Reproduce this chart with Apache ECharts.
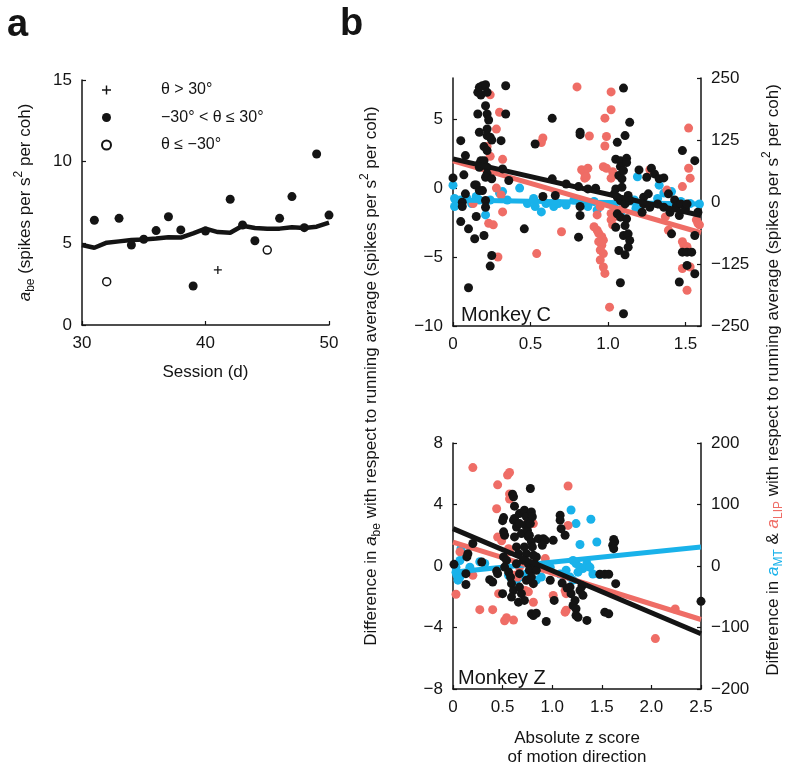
<!DOCTYPE html>
<html>
<head>
<meta charset="utf-8">
<script src="https://cdn.jsdelivr.net/npm/echarts@6/dist/echarts.min.js"></script>
<style>
  html, body { margin: 0; padding: 0; background: #fff; }
  #chart { width: 792px; height: 772px; }
</style>
</head>
<body>
<div id="chart"></div>
<script>
// panel a: a_be per session
const sessions = [30, 31, 32, 33, 34, 35, 36, 37, 38, 39, 40, 41, 42, 43, 44, 45, 46, 47, 48, 49, 50]
const runningAvg = [4.9, 4.73, 5.04, 5.12, 5.2, 5.24, 5.29, 5.37, 5.35, 5.61, 5.9, 5.69, 5.65, 6.08, 5.94, 5.9, 5.9, 5.98, 5.94, 6.02, 6.27]
const thetaAbove = [[41, 3.37]]
const thetaMid = [[31, 6.41], [33, 6.53], [34, 4.9], [35, 5.25], [36, 5.78], [37, 6.63], [38, 5.82], [39, 2.39], [40, 5.75],
  [42, 7.7], [43, 6.12], [44, 5.16], [46, 6.53], [47, 7.86], [48, 5.96], [49, 10.47], [50, 6.73]]
const thetaBelow = [[32, 2.65], [45, 4.59]]

// panel b, monkey C: [|z|, difference]
const cBe = [[0.00, 0.75], [0.05, 3.45], [0.06, -1.01], [0.06, -1.33], [0.05, -2.42], [0.08, 2.37], [0.08, -0.41], [0.07, 0.97],
  [0.10, -2.95], [0.10, -7.22], [0.14, -3.67], [0.15, -2.05], [0.14, 0.24], [0.16, 6.96], [0.17, 7.32], [0.19, 7.44], [0.21, 7.51],
  [0.18, 6.76], [0.16, 5.39], [0.21, 5.99], [0.22, 5.39], [0.23, 4.95], [0.17, 4.06], [0.22, 4.30], [0.22, 3.82], [0.24, 3.70],
  [0.20, 3.02], [0.22, 2.73], [0.18, 2.00], [0.17, 1.76], [0.17, 1.52], [0.20, 2.00], [0.22, 1.52], [0.22, 1.04], [0.21, 0.80],
  [0.15, 0.24], [0.17, -0.17], [0.19, -0.17], [0.21, -0.89], [0.21, -1.38], [0.20, -3.43], [0.25, -4.88], [0.24, -5.65],
  [0.25, 0.68], [0.25, 3.50], [0.22, 6.96], [0.34, 7.44], [0.34, 5.39], [0.31, 3.45], [0.32, 1.40], [0.36, 0.56], [0.46, -2.95],
  [0.53, 3.21], [0.58, -0.60], [0.64, 5.07], [0.64, 0.68], [0.66, -0.53], [0.73, 0.31], [0.81, 0.12], [0.87, -0.05], [0.82, 4.06],
  [0.82, 3.89], [0.82, -1.33], [0.82, -1.98], [0.81, -3.55], [0.92, 0.00], [1.10, 7.27], [1.14, 4.78], [1.11, 3.82], [1.06, 3.33],
  [1.05, 2.10], [1.08, 2.00], [1.08, 1.57], [1.12, 2.17], [1.12, 1.86], [1.07, 0.92], [1.09, 0.68], [1.10, 1.28], [1.05, -0.05],
  [1.04, -0.41], [1.06, -0.65], [1.09, 0.07], [1.08, -0.89], [1.11, -1.14], [1.13, -0.53], [1.14, -0.89], [1.06, -1.86],
  [1.08, -2.10], [1.12, -2.22], [1.11, -2.71], [1.05, -2.83], [1.10, -3.43], [1.13, -3.31], [1.14, -3.79], [1.07, -4.52],
  [1.13, -4.28], [1.11, -4.83], [1.08, -6.86], [1.10, -9.11], [1.20, 1.33], [1.25, 0.80], [1.28, 1.45], [1.30, 1.04], [1.33, 0.68],
  [1.36, 0.75], [1.23, -0.65], [1.23, -1.14], [1.22, -1.74], [1.26, -0.41], [1.27, -1.38], [1.32, -1.14], [1.36, -1.38],
  [1.39, -0.41], [1.43, -0.85], [1.44, -1.33], [1.40, -1.74], [1.46, -1.98], [1.41, -3.31], [1.48, 2.73], [1.47, -1.14],
  [1.50, -1.50], [1.46, -6.81], [1.48, -4.64], [1.51, -4.64], [1.54, -4.64], [1.51, -5.60], [1.56, -3.43], [1.56, -6.21],
  [1.56, 2.00], [1.51, -1.14], [1.58, -1.74]]
const cLip = [[0.24, 216], [0.30, 181], [0.28, 147], [0.24, 92], [0.22, 112], [0.32, 86], [0.28, 28], [0.31, 14], [0.23, -43],
  [0.26, -46], [0.32, -20], [0.29, -111], [0.13, -3], [0.58, 129], [0.57, 120], [0.70, -60], [0.54, -104], [0.80, 232],
  [0.88, 133], [0.98, 169], [1.02, 186], [1.02, 222], [0.98, 113], [0.99, 132], [0.83, 65], [0.85, 58], [0.87, 68], [0.85, 48],
  [0.86, 51], [0.97, 71], [0.99, 68], [1.03, 61], [1.02, 48], [0.93, -26], [0.95, -9], [0.91, -50], [0.93, -57], [0.94, -63],
  [0.96, -70], [0.97, -77], [0.94, -80], [0.96, -87], [0.95, -97], [0.97, -104], [0.95, -117], [0.97, -131], [0.98, -144],
  [1.01, -212], [1.02, -23], [1.04, -30], [1.02, -36], [1.03, -46], [1.09, -14], [1.27, 65], [1.38, 24], [1.37, -30], [1.39, -57],
  [1.48, 31], [1.52, 149], [1.52, 68], [1.53, 48], [1.48, -80], [1.49, -87], [1.51, -90], [1.53, -131], [1.51, -178], [1.57, -36],
  [1.58, -43], [1.59, -46], [1.48, -134]]
const cMt = [[0.00, 34], [0.01, 7], [0.01, -9], [0.02, 1], [0.05, 4], [0.09, 7], [0.12, -3], [0.15, 11], [0.17, 4], [0.21, -26],
  [0.24, 4], [0.30, 18], [0.32, 21], [0.35, 4], [0.43, 28], [0.48, -3], [0.52, 7], [0.53, -9], [0.57, -20], [0.60, -3], [0.65, -9],
  [0.68, -3], [0.73, -6], [0.78, 4], [0.82, -6], [0.87, -9], [0.91, 1], [0.93, -16], [1.04, -9], [1.06, -20], [1.08, -23],
  [1.10, -6], [1.17, 4], [1.18, -13], [1.21, -3], [1.19, 51], [1.32, 7], [1.36, 18], [1.41, 21], [1.47, 1], [1.53, -3],
  [1.59, -4], [1.33, 34]]
const cFitBe = [[0, 2.13], [1.6, -1.98]]
const cFitLip = [[0, 83], [1.6, -62]]
const cFitMt = [[0, 4], [1.6, -4]]

// panel b, monkey Z
const zBe = [[0.01, 0.11], [0.13, -0.50], [0.13, -1.20], [0.14, 0.59], [0.15, 0.80], [0.20, 1.46], [0.29, 0.26], [0.37, -0.89],
  [0.40, -1.04], [0.44, -0.33], [0.45, -0.50], [0.51, 3.15], [0.50, 2.95], [0.51, 2.22], [0.52, 2.00], [0.51, 0.59], [0.54, 0.37],
  [0.52, -0.07], [0.50, -1.80], [0.56, -0.39], [0.58, -0.72], [0.59, -1.15], [0.61, -1.59], [0.59, -2.02], [0.60, 4.67],
  [0.61, 4.50], [0.62, 3.89], [0.61, 2.98], [0.62, 3.09], [0.64, 2.54], [0.62, 1.89], [0.64, 1.24], [0.67, 3.41], [0.67, 2.76],
  [0.69, 2.11], [0.66, 0.80], [0.64, 0.15], [0.67, -0.50], [0.67, -1.37], [0.69, -1.80], [0.66, -2.35], [0.72, 3.63],
  [0.74, 3.20], [0.73, 2.65], [0.75, 2.33], [0.76, 1.89], [0.72, 1.24], [0.74, 0.80], [0.71, 0.37], [0.76, 0.15], [0.77, -0.28],
  [0.74, -0.93], [0.72, -2.24], [0.78, 5.04], [0.79, 3.52], [0.80, 3.20], [0.78, 2.76], [0.77, 2.00], [0.79, 1.57], [0.80, 1.24],
  [0.81, 0.70], [0.82, 0.15], [0.84, -0.28], [0.79, -0.72], [0.81, -1.15], [0.79, -3.11], [0.81, -3.22], [0.84, -3.07],
  [0.86, 1.78], [0.84, 0.59], [0.91, 1.78], [0.93, 1.67], [0.90, 1.35], [0.94, -3.61], [1.01, 1.67], [1.02, -2.24], [0.98, -0.93],
  [1.08, 3.30], [1.08, 2.98], [1.09, 2.43], [1.13, 2.00], [1.10, -1.11], [1.15, -1.43], [1.18, -1.37], [1.19, -1.80],
  [1.23, -2.24], [1.21, -2.57], [1.24, -2.78], [1.24, -3.22], [1.26, -3.33], [1.35, -3.54], [1.28, -1.59], [1.31, -1.91],
  [1.30, -1.30], [1.48, -0.54], [1.53, -0.54], [1.57, -0.54], [1.62, 1.72], [1.63, 1.57], [1.61, 1.35], [1.62, 1.13],
  [1.64, -1.15], [1.53, -3.00], [1.57, -3.11], [2.50, -2.30]]
const zLip = [[0.20, 160], [0.03, -46], [0.20, -15], [0.27, -71], [0.40, -71], [0.45, 132], [0.44, 93], [0.55, 148], [0.57, 152],
  [0.57, 117], [0.57, 109], [0.46, -45], [0.52, -89], [0.54, -84], [0.61, -88], [0.45, 47], [0.49, 41], [0.56, 28], [0.57, 23],
  [0.62, -15], [0.65, -18], [0.67, -2], [0.76, 74], [0.81, 69], [0.73, -40], [0.76, -42], [0.93, 12], [0.81, -59], [1.01, -48],
  [1.16, 130], [1.16, 66], [1.13, -40], [1.14, -45], [1.14, -72], [1.13, -75], [2.04, -118], [2.24, -70], [0.07, 23]]
const zMt = [[0.03, -2], [0.03, -10], [0.04, -15], [0.05, -23], [0.07, 9], [0.07, -18], [0.08, 28], [0.13, 17], [0.17, -2],
  [0.27, 7], [0.32, 4], [0.56, -15], [0.59, -21], [0.64, -23], [0.67, -18], [0.74, -13], [0.79, -7], [0.84, -23], [0.89, -18],
  [0.94, 4], [0.98, -2], [1.08, -13], [1.14, -7], [1.19, 91], [1.24, 69], [1.28, 35], [1.39, 76], [1.45, 39], [1.21, 9], [1.24, 4],
  [1.28, -2], [1.31, -4], [1.35, 4], [1.38, -2], [1.41, -13], [1.48, -14], [1.18, -18], [1.21, -23], [1.26, -10]]
const zFitBe = [[0, 2.43], [2.5, -4.41]]
const zFitLip = [[0, 39], [2.5, -87]]
const zFitMt = [[0, -10], [2.5, 31]]

const FONT = '"Liberation Sans", Arial, sans-serif'
const ink = '#141414'
const salmon = '#ef6d66'
const cyan = '#19b2ea'
const minus = (v) => String(v).replace('-', '\u2212')
const oneDec = (v) => (v === 0 ? '0' : v.toFixed(1))

const axis = (opts) => {
  const { labels, formatter, ...rest } = opts
  return {
    type: 'value',
    splitLine: { show: false },
    axisLine: { show: true, onZero: false, lineStyle: { color: ink, width: 1.5 } },
    axisTick: { show: true, inside: true, length: 4, lineStyle: { color: ink, width: 1.2 }, customValues: labels },
    axisLabel: { color: ink, fontSize: 17, fontFamily: FONT, margin: 10, formatter: formatter || minus, customValues: labels },
    nameTextStyle: { color: ink, fontSize: 17, fontFamily: FONT },
    ...rest
  }
}

const richOpt = {
  i: { fontStyle: 'italic', fontSize: 17, lineHeight: 24, fontFamily: FONT, color: ink },
  sub: { fontSize: 12, lineHeight: 12, verticalAlign: 'bottom', fontFamily: FONT, color: ink },
  sup: { fontSize: 12, lineHeight: 12, verticalAlign: 'top', fontFamily: FONT, color: ink }
}
const richGfx = {
  i: { fontStyle: 'italic', fontSize: 17, lineHeight: 24, fontFamily: FONT, fill: ink },
  sub: { fontSize: 12, lineHeight: 12, verticalAlign: 'bottom', fontFamily: FONT, fill: ink },
  sup: { fontSize: 12, lineHeight: 12, verticalAlign: 'top', fontFamily: FONT, fill: ink },
  ib: { fontStyle: 'italic', fontSize: 17, lineHeight: 24, fontFamily: FONT, fill: cyan },
  subb: { fontSize: 12, lineHeight: 12, verticalAlign: 'bottom', fontFamily: FONT, fill: cyan },
  ir: { fontStyle: 'italic', fontSize: 17, lineHeight: 24, fontFamily: FONT, fill: salmon },
  subr: { fontSize: 12, lineHeight: 12, verticalAlign: 'bottom', fontFamily: FONT, fill: salmon }
}

const vText = (x, y, text) => ({
  type: 'text', x, y, rotation: Math.PI / 2,
  style: { text, rich: richGfx, fontSize: 17, lineHeight: 24, fontFamily: FONT, fill: ink, align: 'center', verticalAlign: 'middle' }
})
const label = (x, y, text, size, weight) => ({
  type: 'text', x, y,
  style: { text, fontSize: size, fontWeight: weight || 'normal', fontFamily: FONT, fill: ink, align: 'left', verticalAlign: 'middle' }
})

const dots = (name, data, xi, yi, color, z) => ({
  name, type: 'scatter', data, xAxisIndex: xi, yAxisIndex: yi, z,
  symbol: 'circle', symbolSize: 9, itemStyle: { color, opacity: 1 }, silent: true
})
const fit = (name, data, xi, yi, color, z) => ({
  name, type: 'line', data, xAxisIndex: xi, yAxisIndex: yi, z,
  symbol: 'none', lineStyle: { color, width: 5, cap: 'butt' }, silent: true
})

const plusPath = 'path://M4.2,0H5.8V4.2H10V5.8H5.8V10H4.2V5.8H0V4.2H4.2Z'

const option = {
  animation: false,
  backgroundColor: '#fff',
  textStyle: { fontFamily: FONT },
  grid: [
    { left: 82, top: 80, width: 247, height: 245 },
    { left: 453, top: 78, width: 248, height: 248 },
    { left: 453, top: 443, width: 248, height: 246 }
  ],
  legend: {
    data: ['\u03b8 > 30\u00b0', '\u221230\u00b0 < \u03b8 \u2264 30\u00b0', '\u03b8 \u2264 \u221230\u00b0'],
    orient: 'vertical', left: 96, top: 77, itemWidth: 9, itemHeight: 9, itemGap: 11.5,
    selectedMode: false,
    textStyle: { fontSize: 16, fontFamily: FONT, color: ink, padding: [0, 0, 0, 45] }
  },
  xAxis: [
    axis({ gridIndex: 0, min: 30, max: 50, interval: 10, name: 'Session (d)', nameLocation: 'middle', nameGap: 39 }),
    axis({ gridIndex: 1, min: 0, max: 1.6, interval: 0.5, labels: [0, 0.5, 1, 1.5], formatter: oneDec }),
    axis({
      gridIndex: 2, min: 0, max: 2.5, interval: 0.5, formatter: oneDec,
      name: 'Absolute z score\nof motion direction', nameLocation: 'middle', nameGap: 40,
      nameTextStyle: { color: ink, fontSize: 17, fontFamily: FONT, lineHeight: 19 }
    })
  ],
  yAxis: [
    axis({
      gridIndex: 0, min: 0, max: 15, interval: 5,
      name: '{i|a}{sub|be} (spikes per s{sup|2} per coh)', nameLocation: 'middle', nameGap: 45,
      nameTextStyle: { color: ink, fontSize: 17, fontFamily: FONT, lineHeight: 24, rich: richOpt }
    }),
    axis({ gridIndex: 1, min: -10, max: 8, labels: [-10, -5, 0, 5] }),
    axis({ gridIndex: 1, min: -250, max: 250, interval: 125, position: 'right' }),
    axis({ gridIndex: 2, min: -8, max: 8, interval: 4 }),
    axis({ gridIndex: 2, min: -200, max: 200, interval: 100, position: 'right' })
  ],
  series: [
    {
      name: 'running average', type: 'line', data: sessions.map((s, k) => [s, runningAvg[k]]),
      xAxisIndex: 0, yAxisIndex: 0, z: 2, symbol: 'none', silent: true,
      lineStyle: { color: ink, width: 4.5 }
    },
    {
      name: '\u03b8 > 30\u00b0', type: 'scatter', data: thetaAbove, xAxisIndex: 0, yAxisIndex: 0, z: 3,
      symbol: plusPath, symbolSize: 8, itemStyle: { color: ink, opacity: 1 }, silent: true
    },
    {
      name: '\u221230\u00b0 < \u03b8 \u2264 30\u00b0', type: 'scatter', data: thetaMid, xAxisIndex: 0, yAxisIndex: 0, z: 3,
      symbol: 'circle', symbolSize: 9, itemStyle: { color: ink, opacity: 1 }, silent: true
    },
    {
      name: '\u03b8 \u2264 \u221230\u00b0', type: 'scatter', data: thetaBelow, xAxisIndex: 0, yAxisIndex: 0, z: 3,
      symbol: 'circle', symbolSize: 8, itemStyle: { color: '#fff', borderColor: ink, borderWidth: 1.5, opacity: 1 }, silent: true
    },

    dots('C MT', cMt, 1, 2, cyan, 2),
    dots('C LIP', cLip, 1, 2, salmon, 3),
    fit('C MT fit', cFitMt, 1, 2, cyan, 4),
    fit('C LIP fit', cFitLip, 1, 2, salmon, 5),
    dots('C be', cBe, 1, 1, ink, 6),
    fit('C be fit', cFitBe, 1, 1, ink, 7),

    dots('Z MT', zMt, 2, 4, cyan, 2),
    dots('Z LIP', zLip, 2, 4, salmon, 3),
    fit('Z MT fit', zFitMt, 2, 4, cyan, 4),
    fit('Z LIP fit', zFitLip, 2, 4, salmon, 5),
    dots('Z be', zBe, 2, 3, ink, 6),
    fit('Z be fit', zFitBe, 2, 3, ink, 7)
  ],
  graphic: [
    label(7, 26, 'a', 38, 'bold'),
    label(340, 25, 'b', 38, 'bold'),
    label(461, 315, 'Monkey C', 20),
    label(458, 678, 'Monkey Z', 20),
    vText(371, 376, 'Difference in {i|a}{sub|be} with respect to running average (spikes per s{sup|2} per coh)'),
    vText(773, 380, 'Difference in {ib|a}{subb|MT} & {ir|a}{subr|LIP} with respect to running average (spikes per s{sup|2} per coh)')
  ]
}

const chart = echarts.init(document.getElementById('chart'), null, { renderer: 'canvas' })
chart.setOption(option)
</script>
</body>
</html>
